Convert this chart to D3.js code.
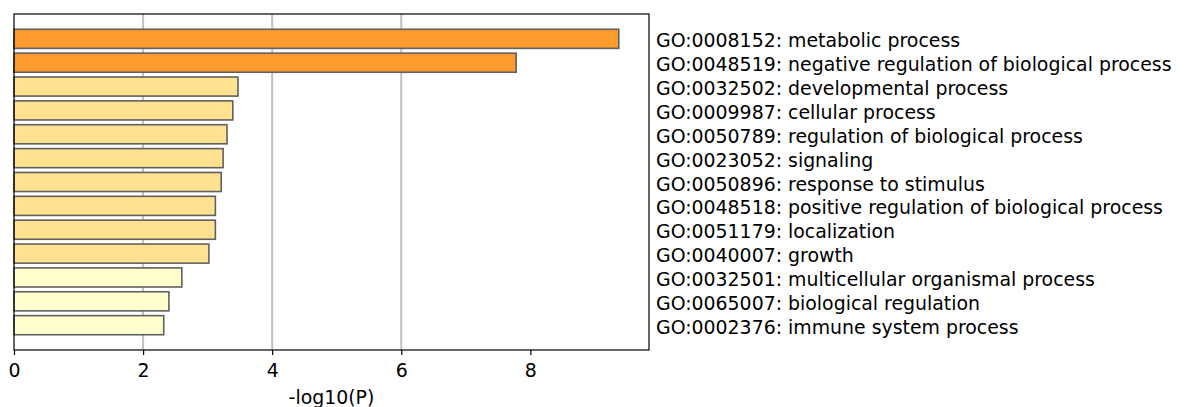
<!DOCTYPE html>
<html>
<head>
<meta charset="utf-8">
<script src="https://cdn.jsdelivr.net/npm/d3@7/dist/d3.min.js"></script>
<style>
  body { margin: 0; background: #fff; }
  text { font-family: "DejaVu Sans", sans-serif; }
</style>
</head>
<body>
<div id="chart"></div>
<script>
// GO terms, top to bottom
const terms = [
  "GO:0008152: metabolic process",
  "GO:0048519: negative regulation of biological process",
  "GO:0032502: developmental process",
  "GO:0009987: cellular process",
  "GO:0050789: regulation of biological process",
  "GO:0023052: signaling",
  "GO:0050896: response to stimulus",
  "GO:0048518: positive regulation of biological process",
  "GO:0051179: localization",
  "GO:0040007: growth",
  "GO:0032501: multicellular organismal process",
  "GO:0065007: biological regulation",
  "GO:0002376: immune system process"
];
const logP = [9.37, 7.78, 3.47, 3.39, 3.30, 3.24, 3.21, 3.12, 3.12, 3.02, 2.60, 2.40, 2.32];
const level = [0, 0, 1, 1, 1, 1, 1, 1, 1, 1, 2, 2, 2];
const levelColors = ["#ff9a2e", "#ffe190", "#ffffce"];
const xTicks = [0, 2, 4, 6, 8];
const gridVals = [2, 4, 6];

const W = 1184, H = 407;
const m = {top: 14, left: 14, right: 535, bottom: 57};
const pw = W - m.left - m.right, ph = H - m.top - m.bottom;
const fs = "18.9px";

const svg = d3.select("#chart").append("svg")
  .attr("width", W).attr("height", H);

const x = d3.scaleLinear()
  .domain([0, d3.max(logP) * 1.05])
  .range([m.left, m.left + pw]);

// matplotlib-like barh: index positions, 0.8 height, 5% margins
const n = terms.length;
const pad = (n - 1 + 0.8) * 0.05;
const y = d3.scaleLinear()
  .domain([-0.4 - pad, n - 1 + 0.4 + pad])
  .range([m.top, m.top + ph]);

// grid
svg.append("g").selectAll("line")
  .data(gridVals).enter().append("line")
  .attr("x1", d => x(d)).attr("x2", d => x(d))
  .attr("y1", m.top).attr("y2", m.top + ph)
  .attr("stroke", "#c0c0c0").attr("stroke-width", 2);

// bars
svg.append("g").selectAll("rect")
  .data(logP).enter().append("rect")
  .attr("x", x(0))
  .attr("y", (d, i) => y(i - 0.4))
  .attr("width", d => x(d) - x(0))
  .attr("height", y(0.8) - y(0))
  .attr("fill", (d, i) => levelColors[level[i]])
  .attr("stroke", "#606060")
  .attr("stroke-width", 1.6);

// frame
svg.append("rect")
  .attr("x", m.left).attr("y", m.top)
  .attr("width", pw).attr("height", ph)
  .attr("fill", "none").attr("stroke", "#000").attr("stroke-width", 1.2);

// x axis
const xa = svg.append("g")
  .attr("transform", `translate(0,${m.top + ph})`)
  .call(d3.axisBottom(x).tickValues(xTicks).tickSize(5).tickPadding(9).tickFormat(d3.format("d")));
xa.select(".domain").remove();
xa.selectAll("line").attr("stroke", "#000").attr("stroke-width", 1.2);
xa.selectAll("text").style("font-size", fs).attr("fill", "#000");

svg.append("text")
  .attr("x", x.range()[0] + pw / 2)
  .attr("y", 404)
  .attr("text-anchor", "middle")
  .style("font-size", fs)
  .text("-log10(P)");

// term labels on the right
svg.append("g").selectAll("text")
  .data(terms).enter().append("text")
  .attr("x", m.left + pw + 7)
  .attr("y", (d, i) => y(i) + 2)
  .attr("dy", "0.35em")
  .style("font-size", fs)
  .attr("fill", "#000")
  .text(d => d);
</script>
</body>
</html>
